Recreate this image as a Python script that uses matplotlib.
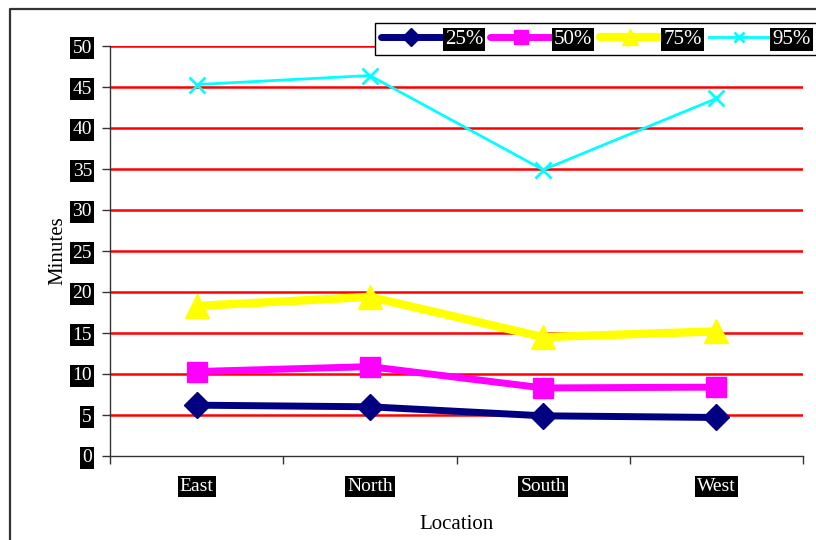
import matplotlib
matplotlib.use("Agg")
import matplotlib.pyplot as plt
from matplotlib.lines import Line2D
import numpy as np

categories = ["East", "North", "South", "West"]
p25 = [6.2, 6.0, 4.9, 4.7]
p50 = [10.3, 10.9, 8.3, 8.4]
p75 = [18.3, 19.4, 14.5, 15.2]
p95 = [45.3, 46.4, 34.9, 43.6]
yticks = [0, 5, 10, 15, 20, 25, 30, 35, 40, 45, 50]

W, H = 816, 540
fig = plt.figure(figsize=(W / 100, H / 100), dpi=100)
fig.patch.set_facecolor("white")

# chart-area border
fig.add_artist(Line2D([10 / W, 10 / W, 1.01], [-0.01, 1 - 9 / H, 1 - 9 / H],
                      color="#333333", lw=1.6, transform=fig.transFigure))

ax = fig.add_axes([110 / W, 1 - 456 / H, (803 - 110) / W, (456 - 46) / H])
serif = "Liberation Serif"
x = np.arange(len(categories))

for v in yticks[1:]:
    ax.axhline(v, color="red", lw=1.8, zorder=1)

ax.plot(x, p25, color="#000080", lw=5, marker="D", ms=13, label="25%", zorder=5,
        solid_capstyle="round")
ax.plot(x, p50, color="#FF00FF", lw=5, marker="s", ms=15, label="50%", zorder=4,
        solid_capstyle="round")
ax.plot(x, p75, color="#FFFF00", lw=6, marker="^", ms=17, label="75%", zorder=3,
        solid_capstyle="round")
ax.plot(x, p95, color="#00FFFF", lw=2, marker="x", ms=11, mew=2, label="95%", zorder=3)

ax.set_xlim(-0.5, 3.5)
ax.set_ylim(0, 50)
ax.set_yticks(yticks)
ax.set_xticks(x)
ax.set_xticklabels(categories)
ax.set_xticks(np.arange(-0.5, 4, 1), minor=True)
ax.tick_params(axis="x", which="major", length=0, pad=16)
ax.tick_params(axis="x", which="minor", length=6, width=1, direction="out", color="#333333")
ax.tick_params(axis="y", length=6, width=1, direction="out", color="#333333", pad=7)

for s in ["top", "right"]:
    ax.spines[s].set_visible(False)
for s in ["left", "bottom"]:
    ax.spines[s].set_color("#333333")
    ax.spines[s].set_linewidth(1)

for t in ax.get_xticklabels() + ax.get_yticklabels():
    t.set_fontfamily(serif)
    t.set_fontsize(14)
    t.set_color("white")
    t.set_bbox(dict(facecolor="black", edgecolor="none", pad=1.5))

ax.set_ylabel("Minutes", fontfamily=serif, fontsize=15, labelpad=3.5)
ax.set_xlabel("Location", fontfamily=serif, fontsize=15, labelpad=14.5)

leg = ax.legend(loc="upper left", bbox_to_anchor=(375 / W, 1 - 23 / H),
                bbox_transform=fig.transFigure, ncol=4, frameon=True,
                fancybox=False, edgecolor="black", framealpha=1,
                prop={"family": serif, "size": 15}, handlelength=2.9,
                handletextpad=0.15, columnspacing=0.35, borderpad=0.3,
                borderaxespad=0, markerscale=0.7)
leg.get_frame().set_linewidth(1)
leg.set_zorder(10)
for t in leg.get_texts():
    t.set_color("white")
    t.set_bbox(dict(facecolor="black", edgecolor="none", pad=1.5))

fig.savefig("out.png", dpi=100)
